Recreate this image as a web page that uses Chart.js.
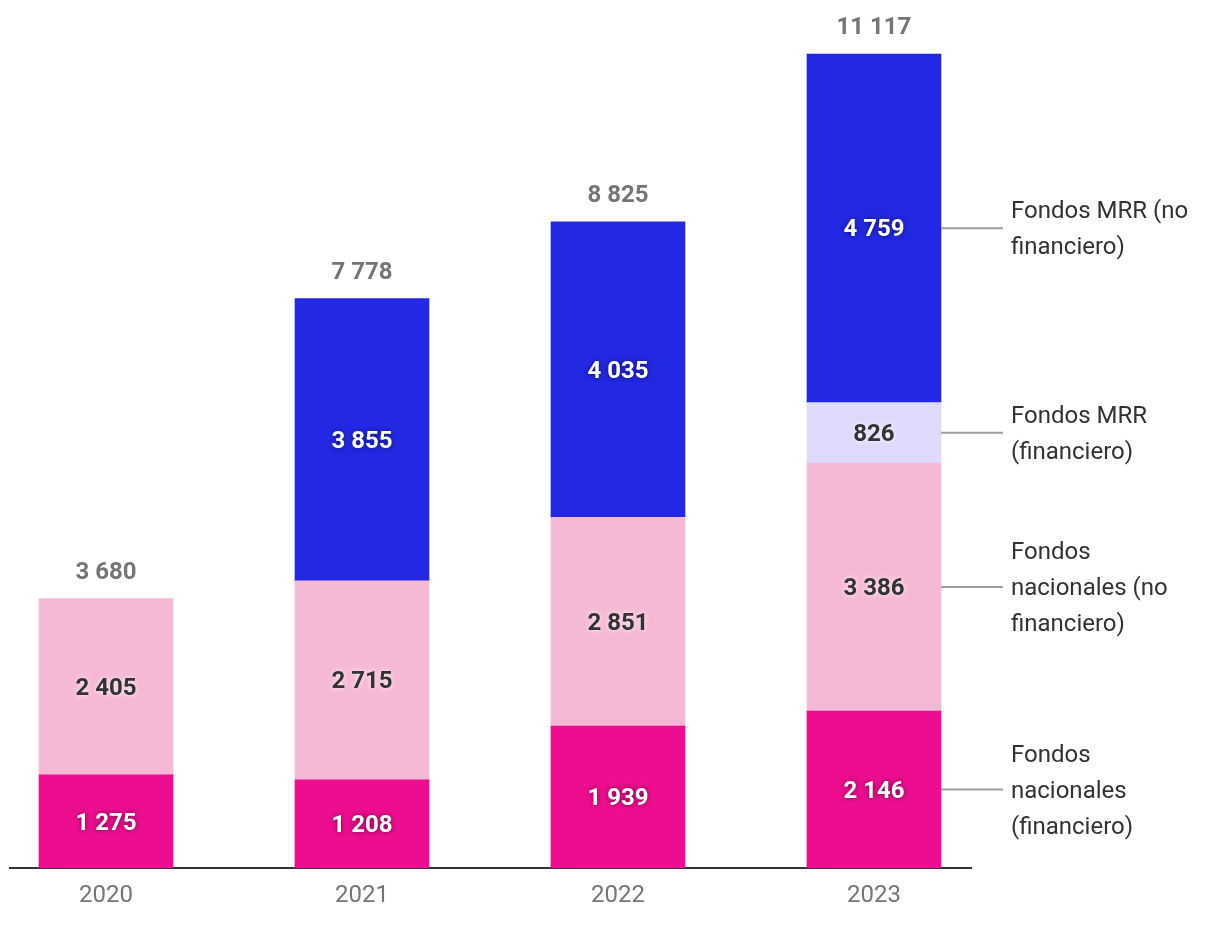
<!DOCTYPE html>
<html>
<head>
<meta charset="utf-8">
<script src="https://cdn.jsdelivr.net/npm/chart.js@4"></script>
<style>
  body { margin: 0; background: #fff; }
  canvas { display: block; }
</style>
</head>
<body>
<canvas id="fondosChart" width="1220" height="936"></canvas>
<script>
const years = ['2020', '2021', '2022', '2023'];
const nacionalesFin = [1275, 1208, 1939, 2146];
const nacionalesNoFin = [2405, 2715, 2851, 3386];
const mrrFin = [null, null, null, 826];
const mrrNoFin = [null, 3855, 4035, 4759];

const seriesNames = [
  ['Fondos', 'nacionales', '(financiero)'],
  ['Fondos', 'nacionales (no', 'financiero)'],
  ['Fondos MRR', '(financiero)'],
  ['Fondos MRR (no', 'financiero)']
];
const seriesColors = ['#ec0e8f', '#f6b9d5', '#dedafc', '#2328e3'];
const darkSeries = [true, false, false, true];

const fmt = v => String(v).replace(/\B(?=(\d{3})+(?!\d))/g, ' ');
const toPoints = arr => arr.map((v, i) => ({ x: i, y: v }));

const valueLabels = {
  id: 'valueLabels',
  afterDatasetsDraw(chart) {
    const ctx = chart.ctx;
    ctx.save();
    ctx.textAlign = 'center';
    ctx.textBaseline = 'middle';
    ctx.font = 'bold 24px Roboto';
    chart.data.datasets.forEach((ds, di) => {
      const meta = chart.getDatasetMeta(di);
      meta.data.forEach((bar, i) => {
        const v = ds.data[i].y;
        if (v == null) return;
        const y = (bar.y + bar.base) / 2;
        if (darkSeries[di]) {
          ctx.fillStyle = '#ffffff';
          ctx.shadowColor = 'rgba(0,0,0,0.55)';
        } else {
          ctx.fillStyle = '#333333';
          ctx.shadowColor = 'rgba(255,255,255,0.9)';
        }
        ctx.shadowBlur = 5;
        ctx.fillText(fmt(v), bar.x, y + 2);
      });
    });
    ctx.shadowBlur = 0;
    ctx.shadowColor = 'transparent';

    // totals above each bar
    ctx.fillStyle = '#757575';
    years.forEach((yr, i) => {
      let total = 0;
      let top = Infinity;
      let x = 0;
      chart.data.datasets.forEach((ds, di) => {
        const v = ds.data[i].y;
        if (v == null) return;
        total += v;
        const bar = chart.getDatasetMeta(di).data[i];
        top = Math.min(top, bar.y);
        x = bar.x;
      });
      ctx.fillText(fmt(total), x, top - 26);
    });

    // series labels on the right, tied to the last bar
    const last = years.length - 1;
    ctx.font = '24px Roboto';
    ctx.textAlign = 'left';
    chart.data.datasets.forEach((ds, di) => {
      const bar = chart.getDatasetMeta(di).data[last];
      if (ds.data[last].y == null) return;
      const y = (bar.y + bar.base) / 2;
      const x0 = bar.x + bar.width / 2;
      ctx.strokeStyle = '#9e9e9e';
      ctx.lineWidth = 2;
      ctx.beginPath();
      ctx.moveTo(x0, y);
      ctx.lineTo(x0 + 62, y);
      ctx.stroke();
      const lines = seriesNames[di];
      const lh = 36;
      ctx.fillStyle = '#333333';
      lines.forEach((ln, k) => {
        ctx.fillText(ln, x0 + 70, y + 2 + (k - (lines.length - 1) / 2) * lh);
      });
    });
    ctx.restore();
  }
};

new Chart(document.getElementById('fondosChart'), {
  type: 'bar',
  data: {
    datasets: [
      { label: seriesNames[0].join(' '), data: toPoints(nacionalesFin), backgroundColor: seriesColors[0] },
      { label: seriesNames[1].join(' '), data: toPoints(nacionalesNoFin), backgroundColor: seriesColors[1] },
      { label: seriesNames[2].join(' '), data: toPoints(mrrFin), backgroundColor: seriesColors[2] },
      { label: seriesNames[3].join(' '), data: toPoints(mrrNoFin), backgroundColor: seriesColors[3] }
    ]
  },
  options: {
    responsive: false,
    animation: false,
    barThickness: 134,
    layout: { padding: { left: 10, right: 249, top: 0, bottom: 13 } },
    plugins: {
      legend: { display: false },
      tooltip: { enabled: false }
    },
    scales: {
      x: {
        type: 'linear',
        stacked: true,
        offset: false,
        bounds: 'data',
        min: -0.375,
        max: 3.379,
        afterBuildTicks: scale => { scale.ticks = years.map((_, i) => ({ value: i })); },
        grid: { display: false, drawTicks: false, offset: false },
        border: { display: true, color: '#333333', width: 2 },
        ticks: {
          padding: 13,
          color: '#757575',
          font: { family: 'Roboto', size: 24 },
          callback: v => years[v]
        }
      },
      y: {
        stacked: true,
        display: false,
        min: 0,
        max: 11855
      }
    }
  },
  plugins: [valueLabels]
});
</script>
</body>
</html>
